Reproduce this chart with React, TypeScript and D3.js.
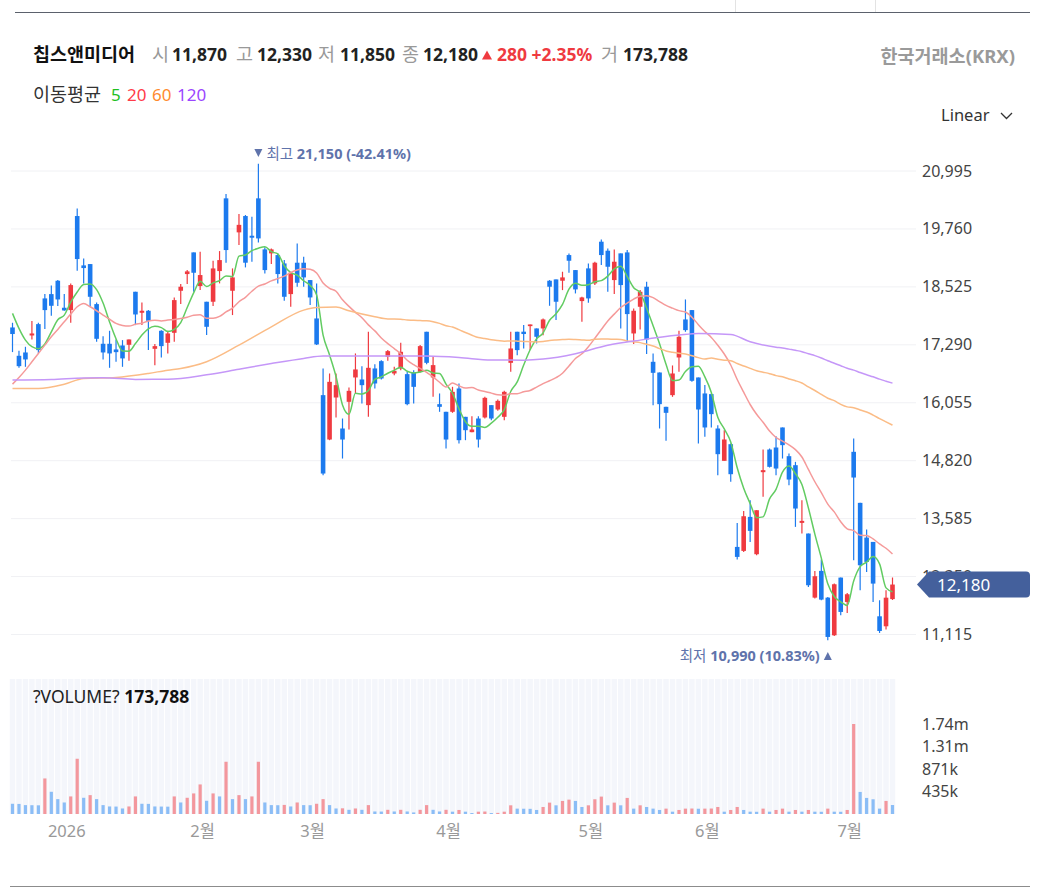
import React from "react";
import * as d3 from "d3";

// ---------- DATA ----------
const opens = [17660,17056,17127,17489,17731,18279,18371,18656,18080,18030,
20035,18983,19011,18158,17312,17312,17191,17276,17290,18421,
17973,18016,17205,17589,17333,17546,18442,18798,19260,18542,
18208,18208,18862,20412,18442,19687,20035,19615,20412,19324,
19239,19203,19025,18371,19040,19040,18670,17852,16217,15271,
16167,15506,16075,16594,16551,16004,16786,16942,17035,16679,
16786,16665,16693,16714,17568,16594,16025,15862,15862,16359,
15755,15428,15719,15741,16004,15911,15755,16906,17568,17570,
17688,17639,17639,18656,18684,18656,19203,18883,18222,18919,
18599,19488,19296,18670,19239,19260,17532,18101,18528,16928,
16700,15968,16217,17020,17831,18030,16594,16253,16239,15506,
14817,15172,12982,12897,13622,12826,14575,15058,15101,15528,
14916,14724,13494,13267,11901,12471,11901,11098,12328,11809,
15009,13921,13181,13089,11503,11290,11870];

const highs = [17760,17162,17248,17795,17760,18371,18556,18670,18371,18599,
20198,19132,19011,18193,17475,17589,17404,17390,17404,18421,
18193,18030,17305,17603,17589,18300,18584,18883,19260,19274,
18208,19082,19288,20504,18919,20078,20057,20021,21150,19367,
19345,19239,19096,18826,19452,19168,18670,18599,16786,16679,
16679,15719,16380,17106,16835,17568,16878,16963,17177,16821,
17333,16714,16750,17284,17568,17049,16253,15862,16395,16466,
15755,15769,15769,16181,16004,16125,16309,17568,17568,17710,
17724,17639,17852,18670,18684,18848,19239,18883,18314,19025,
19061,19537,19345,19324,19239,19310,18066,18456,18634,17106,
16700,15968,16850,17589,18257,18030,16594,16431,16253,15577,
15471,15186,13494,13750,13978,13764,15058,15080,15343,15528,
14973,14795,13978,13267,12471,12712,11916,12200,12328,12001,
15293,13921,13352,13089,11845,12058,12330];

const lows = [17135,16800,16821,17404,17106,17625,17909,18115,18016,17760,
18869,18599,18101,17354,16978,16800,16928,16821,16949,17710,
17710,17177,16857,17020,17106,17354,18158,18584,18421,18456,
17497,18115,18599,19040,17924,19416,18940,19061,19473,18812,
19011,18599,18229,18101,18528,18528,18137,17284,14510,15257,
15740,14866,15485,16253,16039,15755,16359,16551,16949,16643,
16750,16004,16039,16700,16878,16181,15862,15080,15840,15186,
15257,15428,15101,15719,15684,15883,15684,16714,17070,17212,
17177,17319,17496,18122,17817,18456,18826,18385,17781,18186,
18563,18990,18421,18371,17639,17354,17305,17617,17092,16004,
15506,15243,16181,16714,17568,16502,15186,15329,15528,14511,
14817,14369,12712,12875,13089,12804,14049,14674,14511,14866,
14298,13409,13267,12129,11880,11845,10990,11084,11525,11574,
12698,12058,12449,11809,11148,11219,11850];

const closes = [17520,16835,16978,17532,17177,18030,18122,18257,18023,18563,
19118,18926,18314,17418,17127,17106,17134,17000,17404,17937,
18016,17802,17262,17262,17532,18243,18528,18855,18826,18777,
17674,18918,19096,19310,18727,19847,19040,19573,19558,18883,
19324,18798,18314,18826,18613,18727,18300,17298,14546,16501,
16430,15271,16309,16765,16430,16800,16466,16572,17155,16736,
17141,16025,16394,17262,16906,16857,15968,15271,16288,15257,
15470,15485,15271,16160,15719,16096,16288,17212,17177,17520,
17724,17461,17831,18528,18208,18727,19082,18471,18300,18279,
19040,19203,18954,19061,18563,17945,18016,18421,17404,16693,
16025,15840,16679,17461,17603,16523,15911,15528,15812,14959,
15272,14532,12769,13636,13324,13764,14618,14689,14653,15151,
14418,13800,13537,12165,12357,11859,11063,12186,11596,11973,
14461,12591,12662,12200,11190,11900,12180];

const volumes = [198000,195000,172000,170000,168000,688000,430000,288000,223000,340000,
1069000,314000,365000,288000,172000,146000,144000,107000,146000,340000,
198000,196000,146000,144000,142000,340000,223000,314000,398000,572000,
256000,398000,340000,1011000,288000,365000,288000,340000,1011000,223000,
172000,170000,176000,146000,223000,172000,170000,198000,288000,172000,
107000,110000,81000,107000,81000,172000,49000,47000,81000,49000,
81000,49000,30000,81000,172000,81000,49000,81000,45000,78000,
45000,19000,45000,48000,19000,22000,45000,168000,104000,102000,
100000,78000,136000,220000,168000,253000,278000,253000,136000,168000,
285000,337000,168000,220000,168000,311000,104000,168000,136000,104000,
78000,104000,45000,78000,104000,106000,102000,104000,106000,136000,
45000,78000,136000,78000,45000,43000,104000,45000,78000,104000,
45000,78000,45000,78000,45000,43000,104000,45000,43000,78000,
1741500,427000,311000,285000,104000,253000,173788];

// moving-average values before enough in-window history exists
const ma5Head = [17960, 17640, 17390, 17250];
const ma20Head = [16452,16594,16750,16928,17106,17283,17461,17617,17781,17945,
18101,18172,18101,18016,17924,17838,17746,17703,17689];
const ma60Head: [number, number][] = [[0,16360],[4,16360],[8,16450],[11,16573],[16,16594],
[21,16679],[24,16750],[26,16786],[30,16930],[35,17283],[40,17674],[45,18030],[47,18087],
[50,18095],[52,18016],[56,17888],[58,17840]];
const ma120Head: [number, number][] = [[0,16540],[6,16550],[11,16585],[14,16587],[19,16553],
[24,16555],[30,16650],[35,16770],[40,16890],[45,17000],[48,17050],[52,17050],[58,17052],
[64,17049],[69,17020],[74,16965],[79,16963],[82,16985],[87,17100],[92,17280],[97,17390],
[103,17497],[106,17533],[111,17511],[114,17355],[118,17240]];

const priceTicks = [20995, 19760, 18525, 17290, 16055, 14820, 13585, 12350, 11115];
const monthLabels = ["2026", "2월", "3월", "4월", "5월", "6월", "7월"];
const monthStartIndex = [8, 29, 46, 67, 89, 107, 129];
const maPeriods = [5, 20, 60, 120];
const maLineColors = ["#62cc62", "#f59a9a", "#fbbc86", "#c597f8"];
const maLabelColors = ["#1fc01f", "#ff3b48", "#ff8a2e", "#9b45ff"];

const stockName = "칩스앤미디어";
const exchangeName = "한국거래소(KRX)";

// ---------- STYLE ----------
const FONT = "'Noto Sans', 'Noto Sans CJK KR', sans-serif";
const RED = "#ef3a40";
const BLUE = "#1c7aee";
const VRED = "#f3979d";
const VBLUE = "#8bbdf6";

function maSeries(period: number, head: [number, number][]): [number, number][] {
  const pts: [number, number][] = head.slice();
  for (let i = period - 1; i < closes.length; i++) {
    pts.push([i, d3.mean(closes.slice(i - period + 1, i + 1)) as number]);
  }
  return pts;
}

export default function App() {
  const n = closes.length;
  const x = d3.scaleLinear().domain([0, n - 1]).range([12.5, 892.5]);
  const step = x(1) - x(0);
  const y = d3.scaleLinear().domain([11115, 20995]).range([634.5, 171]);
  const maxVol = d3.max(volumes) as number;
  const vy = d3.scaleLinear().domain([0, maxVol]).range([814, 724]);
  const volTicks = [1, 2, 3, 4].map((k) => (maxVol * k) / 4);
  const fmtVol = (v: number) => (v >= 1e6 ? (v / 1e6).toFixed(2) + "m" : Math.round(v / 1e3) + "k");
  const fmt = d3.format(",");

  const heads: [number, number][][] = [
    ma5Head.map((v, i) => [i, v] as [number, number]),
    ma20Head.map((v, i) => [i, v] as [number, number]),
    ma60Head,
    ma120Head,
  ];
  const maData = maPeriods.map((p, k) => maSeries(p, heads[k]));
  const line = d3
    .line<[number, number]>()
    .x((d) => x(d[0]))
    .y((d) => y(d[1]))
    .curve(d3.curveMonotoneX);

  const last = n - 1;
  const lastClose = closes[last];
  const change = lastClose - closes[last - 1];
  const pct = (change / closes[last - 1]) * 100;

  const maxIdx = d3.maxIndex(highs);
  const minIdx = d3.minIndex(lows);
  const maxPct = ((lastClose - highs[maxIdx]) / highs[maxIdx]) * 100;
  const minPct = ((lastClose - lows[minIdx]) / lows[minIdx]) * 100;

  const tagY = y(lastClose);
  const HF = 18.5; // hangul header size
  const NF = 17.5; // header number size

  return (
    <>
      <style>{`body{margin:0;background:#fff}`}</style>
      <svg width={1039} height={894} style={{ display: "block", fontFamily: FONT }}>
        {/* top frame */}
        <line x1={15} x2={1030} y1={12.5} y2={12.5} stroke="#5b616c" strokeWidth={1} />
        <line x1={735.5} x2={735.5} y1={0} y2={12} stroke="#e3e3e3" />
        <line x1={875.5} x2={875.5} y1={0} y2={12} stroke="#e3e3e3" />

        {/* header */}
        <text x={33} y={61} fontSize={HF} fontWeight={700} fill="#111">{stockName}</text>
        <text x={152} y={61} fontSize={HF} fill="#999">시</text>
        <text x={172} y={61} fontSize={NF} fontWeight={700} fill="#222">{fmt(opens[last])}</text>
        <text x={236} y={61} fontSize={HF} fill="#999">고</text>
        <text x={257} y={61} fontSize={NF} fontWeight={700} fill="#222">{fmt(highs[last])}</text>
        <text x={318} y={61} fontSize={HF} fill="#999">저</text>
        <text x={340} y={61} fontSize={NF} fontWeight={700} fill="#222">{fmt(lows[last])}</text>
        <text x={402} y={61} fontSize={HF} fill="#999">종</text>
        <text x={423} y={61} fontSize={NF} fontWeight={700} fill="#222">{fmt(lastClose)}</text>
        <path d="M482,59.5 L492,59.5 L487,50.5 Z" fill={RED} />
        <text x={497} y={61} fontSize={NF} fontWeight={700} fill={RED}>
          {fmt(change)} +{pct.toFixed(2)}%
        </text>
        <text x={601} y={61} fontSize={HF} fill="#999">거</text>
        <text x={623} y={61} fontSize={NF} fontWeight={700} fill="#222">{fmt(volumes[last])}</text>
        <text x={1015} y={63} fontSize={HF} fontWeight={700} fill="#9a9a9a" textAnchor="end">{exchangeName}</text>

        {/* MA legend */}
        <text x={33} y={101} fontSize={HF} fill="#333">이동평균</text>
        {maPeriods.map((p, k) => (
          <text key={p} x={[111, 127, 152, 177][k]} y={101} fontSize={17} fill={maLabelColors[k]}>{p}</text>
        ))}

        {/* Linear selector */}
        <text x={941} y={121} fontSize={16.5} fill="#333">Linear</text>
        <polyline points="1001,113 1006.5,118.5 1012,113" fill="none" stroke="#333" strokeWidth={1.3} />

        {/* grid */}
        {priceTicks.map((t) => (
          <line key={t} x1={11} x2={916} y1={y(t)} y2={y(t)} stroke="#f0f1f4" strokeWidth={1} />
        ))}

        {/* candles */}
        {closes.map((c, i) => {
          const o = opens[i];
          const col = c >= o ? RED : BLUE;
          const top = y(Math.max(o, c));
          const bot = y(Math.min(o, c));
          return (
            <g key={i}>
              <line x1={x(i)} x2={x(i)} y1={y(highs[i])} y2={y(lows[i])} stroke={col} strokeWidth={1.2} />
              <rect x={x(i) - 2.3} width={4.6} y={top} height={Math.max(1.2, bot - top)} fill={col} />
            </g>
          );
        })}

        {/* moving averages */}
        {maData.map((d, k) => (
          <path key={k} d={line(d) as string} fill="none" stroke={maLineColors[k]} strokeWidth={1.5} />
        ))}

        {/* max / min annotations */}
        <g fill="#5f73ab" fontSize={14.5}>
          <path d={`M${x(maxIdx) - 4},${149} L${x(maxIdx) + 4},${149} L${x(maxIdx)},${157} Z`} />
          <text x={x(maxIdx) + 8} y={159}>
            최고 <tspan fontWeight={700}>{fmt(highs[maxIdx])} ({maxPct.toFixed(2)}%)</tspan>
          </text>
          <path d={`M${x(minIdx) - 4},${660} L${x(minIdx) + 4},${660} L${x(minIdx)},${652} Z`} />
          <text x={x(minIdx) - 8} y={661} textAnchor="end">
            최저 <tspan fontWeight={700}>{fmt(lows[minIdx])} ({minPct.toFixed(2)}%)</tspan>
          </text>
        </g>

        {/* price axis labels */}
        {priceTicks.map((t) => (
          <text key={t} x={922} y={y(t) + 5.5} fontSize={16} fill="#444">{fmt(t)}</text>
        ))}

        {/* current price tag */}
        <path
          d={`M917,${tagY} L929,${tagY - 13} L1026,${tagY - 13} Q1030,${tagY - 13} 1030,${tagY - 9} L1030,${tagY + 9} Q1030,${tagY + 13} 1026,${tagY + 13} L929,${tagY + 13} Z`}
          fill="#44609c"
        />
        <text x={937} y={tagY + 6.5} fontSize={17} fill="#fff">{fmt(lastClose)}</text>

        {/* volume panel background stripes */}
        {volumes.map((_, i) => (
          <rect key={i} x={x(i) - step / 2 + 0.5} width={step - 1} y={679} height={135} fill="#f4f6fb" />
        ))}
        {/* volume bars */}
        {volumes.map((v, i) => {
          const up = i > 0 && v > volumes[i - 1];
          return (
            <rect key={i} x={x(i) - 1.6} width={3.2} y={vy(v)} height={814 - vy(v)} fill={up ? VRED : VBLUE} />
          );
        })}
        <text x={33} y={703} fontSize={17.5} fill="#222">
          ?VOLUME? <tspan fontWeight={700} fill="#111">{fmt(volumes[last])}</tspan>
        </text>
        {volTicks.map((t) => (
          <text key={t} x={922} y={vy(t) + 5.5} fontSize={16} fill="#444">{fmtVol(t)}</text>
        ))}

        {/* x axis month labels */}
        {monthLabels.map((m, k) => (
          <text key={m} x={x(monthStartIndex[k]) + 2.5} y={837} fontSize={16.5} fill="#999" textAnchor="middle">{m}</text>
        ))}

        {/* bottom frame */}
        <line x1={10} x2={1030} y1={886.5} y2={886.5} stroke="#8c8c8c" />
      </svg>
    </>
  );
}
